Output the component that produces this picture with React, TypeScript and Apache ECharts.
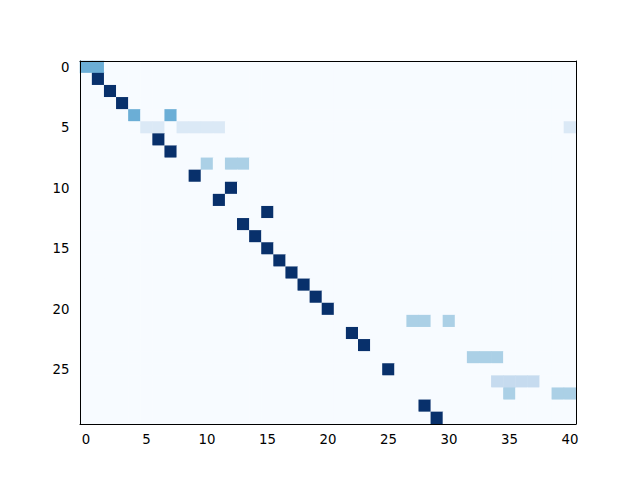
import React, { useEffect, useRef } from "react";
import * as echarts from "echarts";

const nRows = 30;
const nCols = 41;
const xTickLabels = ["0", "5", "10", "15", "20", "25", "30", "35", "40"];
const yTickLabels = ["0", "5", "10", "15", "20", "25"];
// for each row: the columns with non-zero weight (weight spread evenly)
const rowColumns: number[][] = [
  [0, 1],
  [1],
  [2],
  [3],
  [4, 7],
  [5, 6, 8, 9, 10, 11, 40],
  [6],
  [7],
  [10, 12, 13],
  [9],
  [12],
  [11],
  [15],
  [13],
  [14],
  [15],
  [16],
  [17],
  [18],
  [19],
  [20],
  [27, 28, 30],
  [22],
  [23],
  [32, 33, 34],
  [25],
  [34, 35, 36, 37],
  [35, 39, 40],
  [28],
  [29],
];
const bluesColors = [
  "#f7fbff", "#deebf7", "#c6dbef", "#9ecae1", "#6baed6",
  "#4292c6", "#2171b5", "#08519c", "#08306b",
];

export default function App() {
  const ref = useRef<HTMLDivElement>(null);
  useEffect(() => {
    if (!ref.current) return;
    const chart = echarts.init(ref.current, undefined, { renderer: "svg" });
    const xCats = Array.from({ length: nCols }, (_, i) => String(i));
    const yCats = Array.from({ length: nRows }, (_, i) => String(i));
    const data: number[][] = [];
    rowColumns.forEach((cols, r) => {
      for (let c = 0; c < nCols; c++) {
        const v = cols.includes(c) ? 1 / cols.length : 0;
        data.push([c, r, v]);
      }
    });
    const font = { fontFamily: "DejaVu Sans", fontSize: 13.3, color: "#000" };
    const xShow = (i: number) => xTickLabels.includes(String(i));
    const yShow = (i: number) => yTickLabels.includes(String(i));
    chart.setOption({
      animation: false,
      backgroundColor: "#fff",
      grid: { left: 80, top: 61, width: 496, height: 363, containLabel: false },
      visualMap: {
        show: false,
        type: "continuous",
        min: 0,
        max: 1,
        dimension: 2,
        inRange: { color: bluesColors },
      },
      xAxis: [
        {
          type: "category",
          data: xCats,
          position: "bottom",
          axisLine: { lineStyle: { color: "#000", width: 1 } },
          axisTick: { alignWithLabel: true, length: 5, interval: (i: number) => xShow(i), lineStyle: { color: "#000" } },
          axisLabel: { interval: (i: number) => xShow(i), margin: 9, ...font },
          splitLine: { show: false },
          z: 10,
        },
        {
          type: "category",
          data: xCats,
          position: "top",
          axisLine: { lineStyle: { color: "#000", width: 1 } },
          axisTick: { show: false },
          axisLabel: { show: false },
          z: 10,
        },
      ],
      yAxis: [
        {
          type: "category",
          data: yCats,
          inverse: true,
          position: "left",
          axisLine: { lineStyle: { color: "#000", width: 1 } },
          axisTick: { alignWithLabel: true, length: 5, interval: (i: number) => yShow(i), lineStyle: { color: "#000" } },
          axisLabel: { interval: (i: number) => yShow(i), margin: 10.5, ...font },
          splitLine: { show: false },
          z: 10,
        },
        {
          type: "category",
          data: yCats,
          inverse: true,
          position: "right",
          axisLine: { lineStyle: { color: "#000", width: 1 } },
          axisTick: { show: false },
          axisLabel: { show: false },
          z: 10,
        },
      ],
      series: [
        {
          type: "heatmap",
          data,
          itemStyle: { borderWidth: 0 },
          emphasis: { disabled: true },
        },
      ],
    });
    return () => chart.dispose();
  }, []);
  return (
    <div
      ref={ref}
      style={{ position: "absolute", left: 0, top: 0, width: 640, height: 480 }}
    />
  );
}
